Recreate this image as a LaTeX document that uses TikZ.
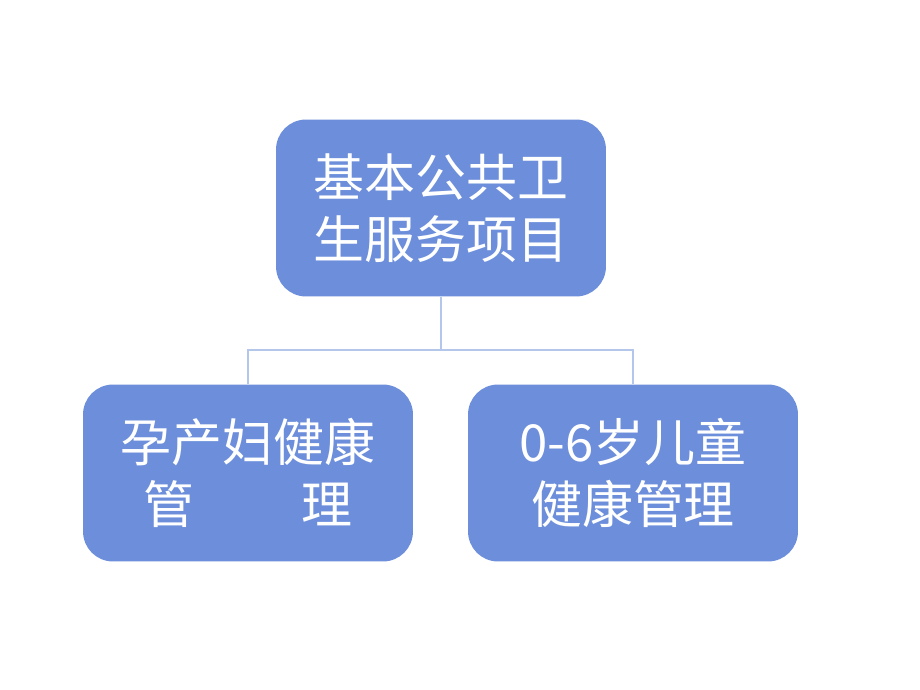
\documentclass[tikz,border=0pt]{standalone}
\usepackage{fontspec}
\setmainfont{Noto Sans CJK SC}
\usetikzlibrary{positioning}
\definecolor{boxblue}{HTML}{6C8EDB}
\definecolor{linkblue}{HTML}{B4C6EA}
\begin{document}
\begin{tikzpicture}[x=0.02cm,y=-0.02cm]
  \tikzset{itembox/.style={draw=none,fill=boxblue,rounded corners=0.6cm,
      minimum width=6.6cm,minimum height=3.54cm,text=white,align=center,
      font=\fontsize{29}{35}\selectfont},
    link/.style={draw=linkblue,line width=1.2pt}}
  \useasboundingbox (0,0) rectangle (920,690);

  \node[itembox] (top) at (441,208) {基本公共卫\\生服务项目};
  \node[itembox] (mother) at (248,473) {孕产妇健康\\管\hspace{2.1em}理};
  \node[itembox] (child) at (633,473) {0-6岁儿童\\健康管理};

  \coordinate (split) at (441,350);
  \draw[link] (top.south) -- (split);
  \draw[link] (mother.north) |- (split) -| (child.north);
\end{tikzpicture}
\end{document}
